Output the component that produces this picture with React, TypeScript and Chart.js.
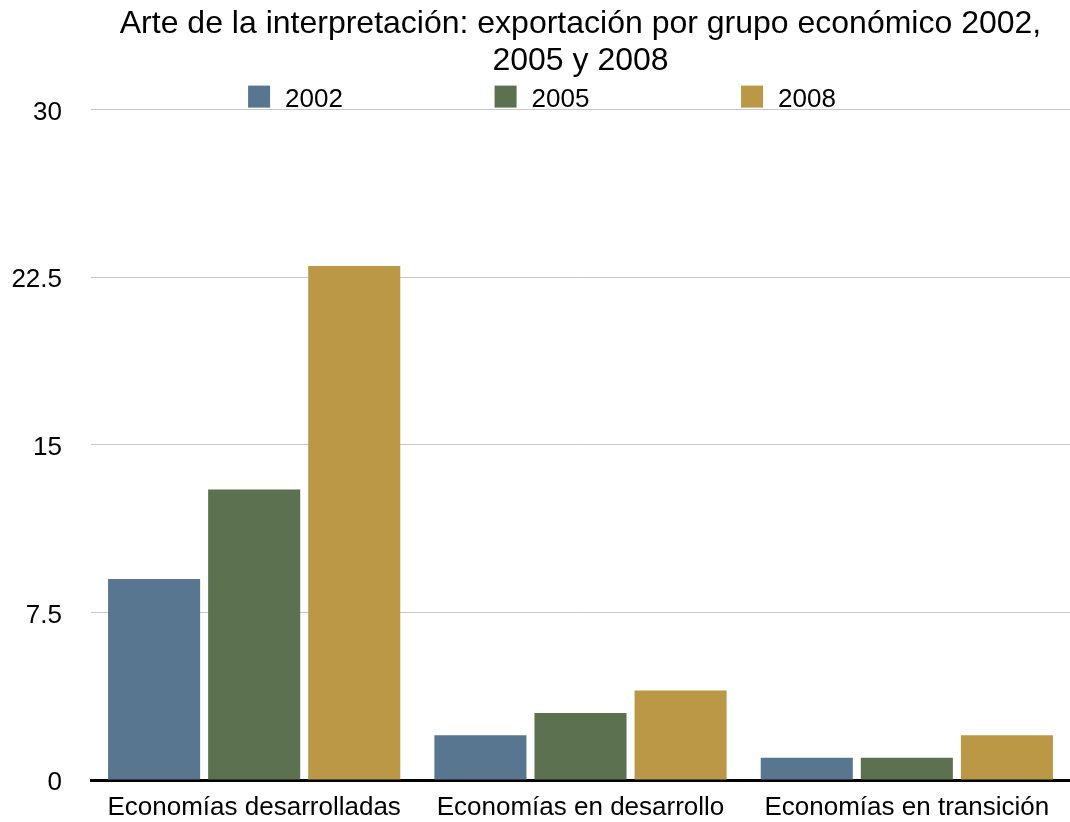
import React, { useEffect, useRef } from "react";
import { Chart, registerables } from "chart.js";

Chart.register(...registerables);

const categories = ["Economías desarrolladas", "Economías en desarrollo", "Economías en transición"];
const seriesLabels = ["2002", "2005", "2008"];
const values2002 = [9, 2, 1];
const values2005 = [13, 3, 1];
const values2008 = [23, 4, 2];
const seriesColors = ["#587690", "#5c714f", "#bb9846"];
const titleLines = ["Arte de la interpretación: exportación por grupo económico 2002,", "2005 y 2008"];

const FONT = "'Liberation Sans', Arial, Helvetica, sans-serif";

const customLegend = {
  id: "customLegend",
  afterDraw(chart: any) {
    const ctx = chart.ctx;
    const area = chart.chartArea;
    const box = 22;
    const gap = 15;
    const itemStep = 246.5;
    ctx.save();
    ctx.font = `26px ${FONT}`;
    const ds = chart.data.datasets;
    const lastW = box + gap + ctx.measureText(String(ds[ds.length - 1].label)).width;
    const total = itemStep * (ds.length - 1) + lastW;
    let x = chart.width / 2 - total / 2 + 7;
    const boxBottom = area.top - 2;
    ds.forEach((d: any) => {
      ctx.fillStyle = d.backgroundColor;
      ctx.fillRect(x, boxBottom - box, box, box);
      ctx.fillStyle = "#000";
      ctx.textBaseline = "alphabetic";
      ctx.textAlign = "left";
      ctx.fillText(String(d.label), x + box + gap, boxBottom - 1);
      x += itemStep;
    });
    ctx.restore();
  },
};

export default function App() {
  const ref = useRef<HTMLCanvasElement>(null);
  useEffect(() => {
    const prevMargin = document.body.style.margin;
    document.body.style.margin = "0";
    const chart = new Chart(ref.current as HTMLCanvasElement, {
      type: "bar",
      data: {
        labels: categories,
        datasets: [
          { label: seriesLabels[0], data: values2002, backgroundColor: seriesColors[0] },
          { label: seriesLabels[1], data: values2005, backgroundColor: seriesColors[1] },
          { label: seriesLabels[2], data: values2008, backgroundColor: seriesColors[2] },
        ],
      },
      options: {
        animation: false,
        responsive: true,
        maintainAspectRatio: false,
        datasets: {
          bar: { categoryPercentage: 0.92, barPercentage: 0.92, borderWidth: 0 },
        },
        layout: { padding: { left: 11, right: -2, top: 0, bottom: 2 } },
        plugins: {
          legend: { display: false },
          tooltip: { enabled: false },
          title: {
            display: true,
            text: titleLines,
            fullSize: false,
            color: "#000",
            font: { family: FONT, size: 32, weight: "normal", lineHeight: 1.15 },
            padding: { top: 6, bottom: 30 },
          },
        },
        scales: {
          x: {
            grid: { display: false, drawTicks: false },
            border: { display: true, color: "#000", width: 3 },
            ticks: { color: "#000", font: { family: FONT, size: 26 }, padding: 12 },
            afterFit: (scale: any) => {
              scale.height = 40;
              scale.paddingLeft = 0;
              scale.paddingRight = 0;
            },
          },
          y: {
            min: 0,
            max: 30,
            grid: { color: "#c8c8c8", drawTicks: false, lineWidth: 1 },
            border: { display: false },
            ticks: {
              stepSize: 7.5,
              color: "#000",
              font: { family: FONT, size: 26 },
              padding: 29,
              labelOffset: 3,
            },
            afterFit: (scale: any) => {
              scale.width = 80;
              scale.paddingTop = 0;
              scale.paddingBottom = 0;
            },
          },
        },
      },
      plugins: [customLegend],
    });
    return () => {
      chart.destroy();
      document.body.style.margin = prevMargin;
    };
  }, []);
  return (
    <div style={{ position: "absolute", left: 0, top: 0, width: 1070, height: 822 }}>
      <canvas ref={ref} />
    </div>
  );
}
